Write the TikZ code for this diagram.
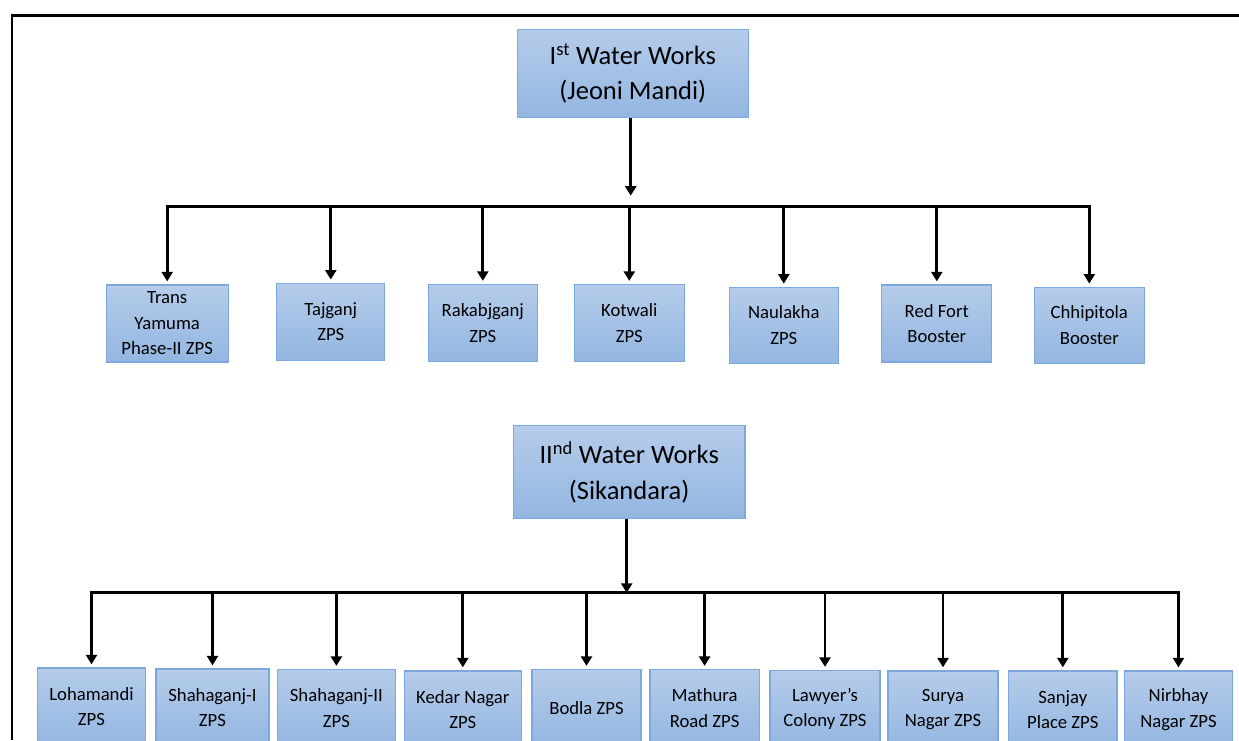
\documentclass[tikz,border=0pt]{standalone}
\usepackage{fontspec}
\setmainfont{Carlito}
\usepackage{tikz}
\usetikzlibrary{arrows.meta, positioning, calc}
\usepackage{xcolor}
\definecolor{wwtop}{HTML}{B5CCEA}
\definecolor{wwbot}{HTML}{93B6E1}
\definecolor{wwedge}{HTML}{7CA8DC}

\begin{document}
\begin{tikzpicture}[x=1pt, y=-1pt,
      stn/.style={draw=wwedge, line width=1.3pt, top color=wwtop, bottom color=wwbot,
                  minimum height=77pt, inner sep=1pt, align=center,
                  font=\fontsize{18.7}{25.5}\selectfont},
      ww/.style={stn, font=\fontsize{26.5}{35.5}\selectfont},
      arr/.style={-{Triangle[length=9.5pt, width=11pt]}, line width=2.9pt},
      bar/.style={line width=2.9pt, line cap=rect}
    ]
      \useasboundingbox (0,0) rectangle (1239,740);
      \draw[line width=2.4pt] (12,740) -- (12,15.5) -- (1239,15.5);

      % first water works
      \node[ww, minimum width=231pt, minimum height=88pt] (ww1) at (632.8,73.5)
        {I\textsuperscript{st} Water Works\\(Jeoni Mandi)};
      \coordinate (bus1) at (630.7,206.7);
      \node[stn, minimum width=122pt] (a1) at (167.2,323.5) {Trans\\Yamuma\\Phase-II ZPS};
      \node[stn, minimum width=108pt] (a2) at (330.8,321.7) {Tajganj\\ZPS};
      \node[stn, minimum width=109pt] (a3) at (482.8,323) {Rakabjganj\\ZPS};
      \node[stn, minimum width=110pt] (a4) at (629.3,323) {Kotwali\\ZPS};
      \node[stn, minimum width=109pt, minimum height=76pt] (a5) at (783.8,325.3) {Naulakha\\ZPS};
      \node[stn, minimum width=110pt] (a6) at (936.8,323.5) {Red Fort\\Booster};
      \node[stn, minimum width=110pt, minimum height=76pt] (a7) at (1089.3,325.2) {Chhipitola\\Booster};

      \draw[arr, shorten >=11pt] (ww1.south -| bus1) -- (bus1);
      \draw[bar] (bus1 -| a1) -- (bus1 -| a7);
      \foreach \n in {a1,a2,a3,a4,a5,a6,a7}
        \draw[arr, shorten >=3pt] (bus1 -| \n) -- (\n.north);

      % second water works
      \node[ww, minimum width=231.7pt, minimum height=93pt] (ww2) at (629.2,472.3)
        {II\textsuperscript{nd} Water Works\\(Sikandara)};
      \coordinate (bus2) at (626.7,592.8);
      \node[stn, minimum width=108pt] (b1) at (91.5,706.5) {Lohamandi\\ZPS};
      \node[stn, minimum width=113pt] (b2) at (212.5,707.5) {Shahaganj-I\\ZPS};
      \node[stn, minimum width=117.7pt] (b3) at (336.4,708) {Shahaganj-II\\ZPS};
      \node[stn, minimum width=117pt] (b4) at (462.8,709.5) {Kedar Nagar\\ZPS};
      \node[stn, minimum width=109pt] (b5) at (586.5,708) {Bodla ZPS};
      \node[stn, minimum width=109.3pt] (b6) at (704.6,708) {Mathura\\Road ZPS};
      \node[stn, minimum width=110pt] (b7) at (825,709) {Lawyer's\\Colony ZPS};
      \node[stn, minimum width=110pt] (b8) at (943,709.5) {Surya\\Nagar ZPS};
      \node[stn, minimum width=108.4pt] (b9) at (1062.8,709.5) {Sanjay\\Place ZPS};
      \node[stn, minimum width=107.7pt] (b10) at (1178.5,709.5) {Nirbhay\\Nagar ZPS};

      \draw[arr] (ww2.south -| bus2) -- (bus2);
      \draw[bar] (bus2 -| b1) -- (bus2 -| b10);
      \foreach \n in {b1,b2,b3,b4,b5,b6,b7,b8,b9,b10}
        \draw[arr, shorten >=3pt] (bus2 -| \n) -- (\n.north);
    \end{tikzpicture}
\end{document}
